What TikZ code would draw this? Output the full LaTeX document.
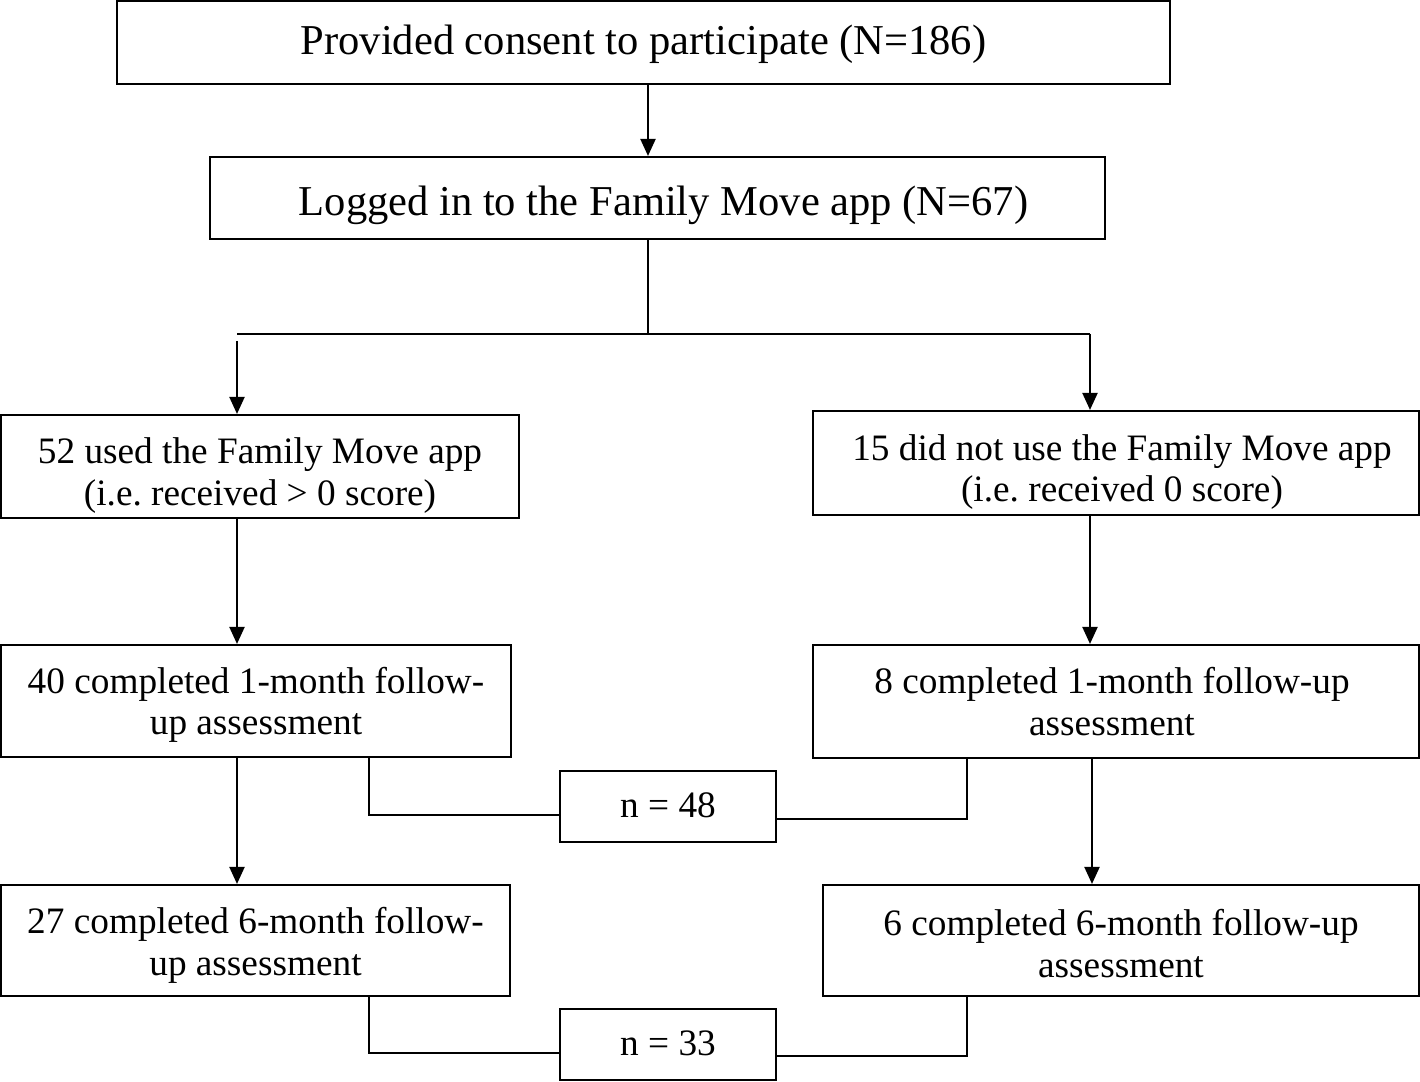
\documentclass[tikz,border=0pt]{standalone}
\usepackage{fontspec}
\setmainfont{Liberation Serif}
\usetikzlibrary{arrows.meta,calc}
\begin{document}
\frenchspacing
\begin{tikzpicture}[x=0.01cm,y=-0.01cm,
  box/.style={draw,line width=0.6pt,inner sep=0pt,anchor=center},
  txt/.style={inner sep=0pt,align=center,anchor=center},
  bigtxt/.style={txt,font=\fontsize{12.1}{14}\selectfont},
  smalltxt/.style={txt,font=\fontsize{10.6}{11.8}\selectfont},
  conn/.style={line width=0.6pt},
  arr/.style={line width=0.6pt,-{Triangle[length=0.17cm,width=0.15cm]}}]
\useasboundingbox (0,0) rectangle (1420,1082);
% boxes
\node[box,minimum width=1053*0.01cm,minimum height=83*0.01cm] (b1) at (643.5,42.5) {};
\node[box,minimum width=895*0.01cm,minimum height=82*0.01cm] (b2) at (657.5,198) {};
\node[box,minimum width=518*0.01cm,minimum height=103*0.01cm] (b3l) at (260,466.5) {};
\node[box,minimum width=606*0.01cm,minimum height=104*0.01cm] (b3r) at (1116,463) {};
\node[box,minimum width=510*0.01cm,minimum height=112*0.01cm] (b4l) at (256,701) {};
\node[box,minimum width=606*0.01cm,minimum height=113*0.01cm] (b4r) at (1116,701.5) {};
\node[box,minimum width=216*0.01cm,minimum height=71*0.01cm] (n48) at (668,806.5) {};
\node[box,minimum width=509*0.01cm,minimum height=111*0.01cm] (b5l) at (255.5,940.5) {};
\node[box,minimum width=596*0.01cm,minimum height=111*0.01cm] (b5r) at (1121,940.5) {};
\node[box,minimum width=216*0.01cm,minimum height=71*0.01cm] (n33) at (668,1044.5) {};
% texts
\node[bigtxt] (t1) at ($(b1.center)+(0,2)$) {Provided consent to participate (N=186)};
\node[bigtxt] (t2) at ($(b2.center)+(6,7)$) {Logged in to the Family Move app (N=67)};
\node[smalltxt] (t3l) at ($(b3l.center)+(0,9)$) {52 used the Family Move app\\(i.e. received > 0 score)};
\node[smalltxt] (t3r) at ($(b3r.center)+(6,9)$) {15 did not use the Family Move app\\(i.e. received 0 score)};
\node[smalltxt] (t4l) at ($(b4l.center)+(0,4)$) {40 completed 1-month follow-\\up assessment};
\node[smalltxt] (t4r) at ($(b4r.center)+(-4,0)$) {8 completed 1-month follow-up\\assessment};
\node[smalltxt] (t48) at ($(n48.center)+(0,-1)$) {n = 48};
\node[smalltxt] (t5l) at ($(b5l.center)+(0,5)$) {27 completed 6-month follow-\\up assessment};
\node[smalltxt] (t5r) at ($(b5r.center)+(0,3)$) {6 completed 6-month follow-up\\assessment};
\node[smalltxt] (t33) at ($(n33.center)+(0,-1)$) {n = 33};
% coordinates
\coordinate (xc) at (648,0);
\coordinate (xl) at (237,0);
\coordinate (xr) at (1090,0);
\coordinate (xr2) at (1092,0);
\coordinate (xm) at (369,0);
\coordinate (xn) at (967,0);
\coordinate (split) at (648,334);
\coordinate (splitl) at (237,334);
\coordinate (splitr) at (1090,334);
\coordinate (startl) at (237,341);
% connectors
\draw[arr] (b1.south -| xc) -- (b2.north -| xc);
\draw[conn] (b2.south -| xc) -- (split);
\draw[conn] (splitl) -- (splitr);
\draw[arr] (startl) -- (b3l.north -| xl);
\draw[arr] (splitr) -- (b3r.north -| xr);
\draw[arr] (b3l.south -| xl) -- (b4l.north -| xl);
\draw[arr] (b3r.south -| xr) -- (b4r.north -| xr);
\draw[conn] (b4l.south -| xm) -- (369,815) -- (n48.west |- 0,815);
\draw[conn] (b4r.south -| xn) -- (967,819) -- (n48.east |- 0,819);
\draw[arr] (b4l.south -| xl) -- (b5l.north -| xl);
\draw[arr] (b4r.south -| xr2) -- (b5r.north -| xr2);
\draw[conn] (b5l.south -| xm) -- (369,1053) -- (n33.west |- 0,1053);
\draw[conn] (b5r.south -| xn) -- (967,1056) -- (n33.east |- 0,1056);
\end{tikzpicture}
\end{document}
